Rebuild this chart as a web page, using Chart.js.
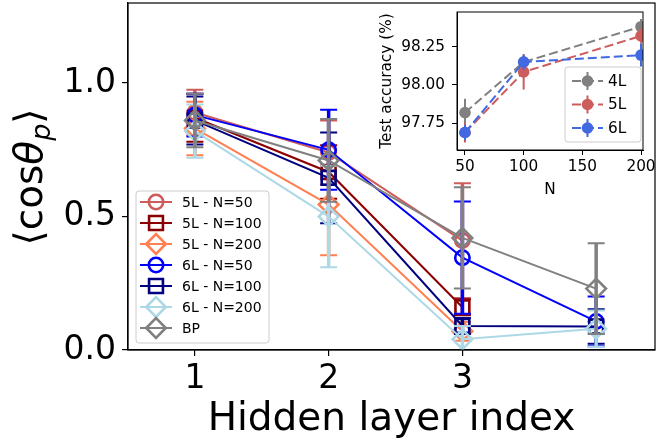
<!DOCTYPE html>
<html>
<head>
<meta charset="utf-8">
<script src="https://cdn.jsdelivr.net/npm/chart.js@4.4.1/dist/chart.umd.min.js"></script>
<style>
  html, body { margin: 0; padding: 0; background: #fff; }
  #wrap { position: relative; width: 657px; height: 443px; }
  #wrap canvas { position: absolute; left: 0; top: 0; }
</style>
</head>
<body>
<div id="wrap">
  <canvas id="mainChart" width="657" height="443"></canvas>
  <canvas id="insetChart" width="657" height="443"></canvas>
</div>
<script>
/* main plot data */
const layerIdx = [1, 2, 3, 4];
const xTicks = [1, 2, 3];
const yTicks = [0, 0.5, 1.0];
const mainLabels = ['5L - N=50', '5L - N=100', '5L - N=200', '6L - N=50', '6L - N=100', '6L - N=200', 'BP'];

const mean5L50 = [0.89, 0.74, 0.41];
const err5L50 = [0.085, 0.12, 0.215];
const mean5L100 = [0.87, 0.667, 0.16];
const err5L100 = [0.09, 0.1, 0.03];
const mean5L200 = [0.83, 0.545, 0.07];
const err5L200 = [0.1, 0.19, 0.035];
const mean6L50 = [0.88, 0.75, 0.346, 0.107];
const err6L50 = [0.08, 0.15, 0.21, 0.093];
const mean6L100 = [0.86, 0.645, 0.09, 0.088];
const err6L100 = [0.09, 0.17, 0.03, 0.065];
const mean6L200 = [0.82, 0.50, 0.04, 0.08];
const err6L200 = [0.1, 0.19, 0.05, 0.068];
const meanBP = [0.86, 0.71, 0.42, 0.23];
const errBP = [0.1, 0.155, 0.19, 0.17];

/* inset data */
const nValues = [50, 100, 200];
const insetXTicks = [50, 100, 150, 200];
const insetYTicks = [97.75, 98.0, 98.25];
const insetLabels = ['4L', '5L', '6L'];
const acc4L = [97.82, 98.15, 98.38];
const errAcc4L = [0.09, 0.03, 0.05];
const acc5L = [97.69, 98.085, 98.32];
const errAcc5L = [0.065, 0.115, 0.05];
const acc6L = [97.69, 98.15, 98.195];
const errAcc6L = [0.05, 0.05, 0.075];

const FONT = "'DejaVu Sans', sans-serif";
Chart.defaults.font.family = FONT;
Chart.defaults.color = '#000';

const mainMeans = [mean5L50, mean5L100, mean5L200, mean6L50, mean6L100, mean6L200, meanBP];
const mainErrs = [err5L50, err5L100, err5L200, err6L50, err6L100, err6L200, errBP];
const mainColors = ['#cd5c5c', '#8b0000', '#ff7f50', '#0000ff', '#000080', '#add8e6', '#808080'];
const mainMarkers = ['circle', 'rect', 'rectRot', 'circle', 'rect', 'rectRot', 'rectRot'];
const markerRadius = { circle: 7.2, rect: 9.8, rectRot: 9.8 };

const insetMeans = [acc4L, acc5L, acc6L];
const insetErrs = [errAcc4L, errAcc5L, errAcc6L];
const insetColors = ['#808080', '#cd5c5c', '#4169e1'];
const insetDash = [9, 4];

// draws vertical error bars for each dataset, just under its line
const errorBarPlugin = {
  id: 'errorBars',
  beforeDatasetDraw(chart, args) {
    const ds = chart.data.datasets[args.index];
    if (!ds.errors) return;
    const { ctx, chartArea: a } = chart;
    const xs = chart.scales.x, ys = chart.scales.y;
    ctx.save();
    ctx.beginPath();
    ctx.rect(a.left, a.top, a.right - a.left, a.bottom - a.top);
    ctx.clip();
    ctx.strokeStyle = ds.borderColor;
    ds.data.forEach((p, i) => {
      const e = ds.errors[i];
      const px = xs.getPixelForValue(p.x);
      const t = ys.getPixelForValue(p.y + e);
      const b = ys.getPixelForValue(p.y - e);
      ctx.lineWidth = ds.errWidth;
      ctx.beginPath();
      ctx.moveTo(px, t);
      ctx.lineTo(px, b);
      ctx.stroke();
      if (ds.capSize) {
        ctx.lineWidth = 2;
        ctx.beginPath();
        ctx.moveTo(px - ds.capSize, t); ctx.lineTo(px + ds.capSize, t);
        ctx.moveTo(px - ds.capSize, b); ctx.lineTo(px + ds.capSize, b);
        ctx.stroke();
      }
    });
    ctx.restore();
  }
};

function marker(ctx, style, x, y, r, color, fill, lw) {
  ctx.save();
  ctx.beginPath();
  if (style === 'circle') {
    ctx.arc(x, y, r, 0, Math.PI * 2);
  } else if (style === 'rect') {
    const s = r * Math.SQRT1_2;
    ctx.rect(x - s, y - s, 2 * s, 2 * s);
  } else {
    ctx.moveTo(x - r, y); ctx.lineTo(x, y - r); ctx.lineTo(x + r, y); ctx.lineTo(x, y + r);
    ctx.closePath();
  }
  if (fill) { ctx.fillStyle = fill; ctx.fill(); }
  if (lw) { ctx.lineWidth = lw; ctx.strokeStyle = color; ctx.stroke(); }
  ctx.restore();
}

function legendBox(ctx, l, t, r, b) {
  ctx.save();
  ctx.beginPath();
  ctx.roundRect(l, t, r - l, b - t, 3);
  ctx.fillStyle = 'rgba(255,255,255,0.8)';
  ctx.fill();
  ctx.strokeStyle = '#cccccc';
  ctx.lineWidth = 1;
  ctx.stroke();
  ctx.restore();
}

const mainDecor = {
  id: 'mainDecor',
  afterDraw(chart) {
    const { ctx, chartArea: a } = chart;
    ctx.save();
    ctx.strokeStyle = '#000';
    ctx.lineWidth = 1.2;
    ctx.strokeRect(a.left, a.top, a.right - a.left, a.bottom - a.top);

    // x title
    ctx.fillStyle = '#000';
    ctx.font = '39px ' + FONT;
    ctx.textAlign = 'center';
    ctx.textBaseline = 'alphabetic';
    ctx.fillText('Hidden layer index', (a.left + a.right) / 2, 430);

    // y title  <cos theta_p>
    ctx.save();
    ctx.translate(42, 177);
    ctx.rotate(-Math.PI / 2);
    ctx.textAlign = 'left';
    const reg = '39px ' + FONT, ita = 'italic 39px ' + FONT, sub = 'italic 27px ' + FONT;
    const parts = [['\u27e8', reg, 0], ['cos', reg, 0], ['\u03b8', ita, 0], ['p', sub, 8], ['\u27e9', reg, 0]];
    let w = 0;
    parts.forEach(p => { ctx.font = p[1]; w += ctx.measureText(p[0]).width; });
    let x = -w / 2;
    parts.forEach(p => {
      ctx.font = p[1];
      ctx.fillText(p[0], x, p[2]);
      x += ctx.measureText(p[0]).width;
    });
    ctx.restore();

    // legend
    legendBox(ctx, 136, 191, 269, 343);
    ctx.font = '14px ' + FONT;
    ctx.textAlign = 'left';
    ctx.textBaseline = 'middle';
    mainLabels.forEach((lab, i) => {
      const y = 202 + 21 * i;
      ctx.strokeStyle = mainColors[i];
      ctx.lineWidth = 2;
      ctx.beginPath(); ctx.moveTo(140, y); ctx.lineTo(172, y); ctx.stroke();
      marker(ctx, mainMarkers[i], 156, y, markerRadius[mainMarkers[i]], mainColors[i], null, 2.6);
      ctx.fillStyle = '#000';
      ctx.fillText(lab, 182, y + 1);
    });
    ctx.restore();
  }
};

const insetDecor = {
  id: 'insetDecor',
  beforeDraw(chart) {
    const { ctx, chartArea: a } = chart;
    ctx.save();
    ctx.fillStyle = '#fff';
    ctx.fillRect(a.left, a.top, a.right - a.left, a.bottom - a.top);
    ctx.restore();
  },
  afterDraw(chart) {
    const { ctx, chartArea: a } = chart;
    ctx.save();
    ctx.strokeStyle = '#000';
    ctx.lineWidth = 1;
    ctx.strokeRect(a.left, a.top, a.right - a.left, a.bottom - a.top);
    ctx.fillStyle = '#000';
    ctx.font = '15.3px ' + FONT;
    ctx.textAlign = 'center';
    ctx.textBaseline = 'alphabetic';
    ctx.fillText('N', (a.left + a.right) / 2, 194);
    ctx.save();
    ctx.translate(391, (a.top + a.bottom) / 2);
    ctx.rotate(-Math.PI / 2);
    ctx.fillText('Test accuracy (%)', 0, 0);
    ctx.restore();

    legendBox(ctx, 565, 67, 641, 142);
    ctx.textAlign = 'left';
    ctx.textBaseline = 'middle';
    insetLabels.forEach((lab, i) => {
      const y = 81 + 23.5 * i;
      ctx.strokeStyle = insetColors[i];
      ctx.lineWidth = 2;
      ctx.setLineDash(insetDash);
      ctx.beginPath(); ctx.moveTo(572, y); ctx.lineTo(603, y); ctx.stroke();
      ctx.setLineDash([]);
      ctx.beginPath(); ctx.moveTo(587.5, y - 9); ctx.lineTo(587.5, y + 9); ctx.stroke();
      marker(ctx, 'circle', 587.5, y, 5.8, insetColors[i], insetColors[i], 0);
      ctx.fillStyle = '#000';
      ctx.fillText(lab, 608, y + 1);
    });
    ctx.restore();
  }
};

function noPad(s) {
  s.paddingTop = 0; s.paddingBottom = 0; s.paddingLeft = 0; s.paddingRight = 0;
}

new Chart(document.getElementById('mainChart'), {
  type: 'line',
  data: {
    datasets: mainMeans.map((vals, i) => ({
      label: mainLabels[i],
      data: vals.map((v, j) => ({ x: layerIdx[j], y: v })),
      errors: mainErrs[i],
      errWidth: 3.5,
      capSize: 8.5,
      borderColor: mainColors[i],
      borderWidth: 2,
      pointStyle: mainMarkers[i],
      pointRadius: markerRadius[mainMarkers[i]],
      pointBorderWidth: 2.6,
      pointBorderColor: mainColors[i],
      pointBackgroundColor: 'rgba(0,0,0,0)',
      tension: 0,
      fill: false,
      order: -i
    }))
  },
  options: {
    responsive: false,
    animation: false,
    devicePixelRatio: 1,
    layout: { autoPadding: false, padding: { left: 0, top: 3, right: 2, bottom: 0 } },
    plugins: { legend: { display: false }, tooltip: { enabled: false } },
    scales: {
      x: {
        type: 'linear',
        min: 0.5,
        max: 4.44,
        afterBuildTicks: s => { s.ticks = xTicks.map(v => ({ value: v })); },
        afterFit: s => { s.height = 93; noPad(s); },
        grid: { drawOnChartArea: false, tickLength: 6, color: '#000', lineWidth: 1.2 },
        border: { display: true, color: '#000', width: 1.2 },
        ticks: { font: { size: 33 }, color: '#000', padding: 4, maxRotation: 0, autoSkip: false, callback: v => String(v) }
      },
      y: {
        min: 0,
        max: 1.3,
        afterBuildTicks: s => { s.ticks = yTicks.map(v => ({ value: v })); },
        afterFit: s => { s.width = 128; noPad(s); },
        grid: { drawOnChartArea: false, tickLength: 6, color: '#000', lineWidth: 1.2 },
        border: { display: true, color: '#000', width: 1.2 },
        ticks: { font: { size: 33 }, color: '#000', padding: 6, autoSkip: false, callback: v => v.toFixed(1) }
      }
    }
  },
  plugins: [errorBarPlugin, mainDecor]
});

new Chart(document.getElementById('insetChart'), {
  type: 'line',
  data: {
    datasets: insetMeans.map((vals, i) => ({
      label: insetLabels[i],
      data: vals.map((v, j) => ({ x: nValues[j], y: v })),
      errors: insetErrs[i],
      errWidth: 2,
      capSize: 0,
      borderColor: insetColors[i],
      borderWidth: 2,
      borderDash: insetDash,
      pointStyle: 'circle',
      pointRadius: 5.8,
      pointBorderWidth: 0,
      pointBackgroundColor: insetColors[i],
      tension: 0,
      fill: false,
      order: -i
    }))
  },
  options: {
    responsive: false,
    animation: false,
    devicePixelRatio: 1,
    layout: { autoPadding: false, padding: { left: 387, top: 12, right: 14, bottom: 243 } },
    plugins: { legend: { display: false }, tooltip: { enabled: false } },
    scales: {
      x: {
        type: 'linear',
        min: 43.2,
        max: 201.7,
        afterBuildTicks: s => { s.ticks = insetXTicks.map(v => ({ value: v })); },
        afterFit: s => { s.height = 50; noPad(s); },
        grid: { drawOnChartArea: false, tickLength: 5, color: '#000', lineWidth: 1 },
        border: { display: true, color: '#000', width: 1 },
        ticks: { font: { size: 15.3 }, color: '#000', padding: 3, maxRotation: 0, autoSkip: false, callback: v => String(v) }
      },
      y: {
        min: 97.576,
        max: 98.476,
        afterBuildTicks: s => { s.ticks = insetYTicks.map(v => ({ value: v })); },
        afterFit: s => { s.width = 70; noPad(s); },
        grid: { drawOnChartArea: false, tickLength: 5, color: '#000', lineWidth: 1 },
        border: { display: true, color: '#000', width: 1 },
        ticks: { font: { size: 15.3 }, color: '#000', padding: 7, autoSkip: false, callback: v => v.toFixed(2) }
      }
    }
  },
  plugins: [errorBarPlugin, insetDecor]
});
</script>
</body>
</html>
